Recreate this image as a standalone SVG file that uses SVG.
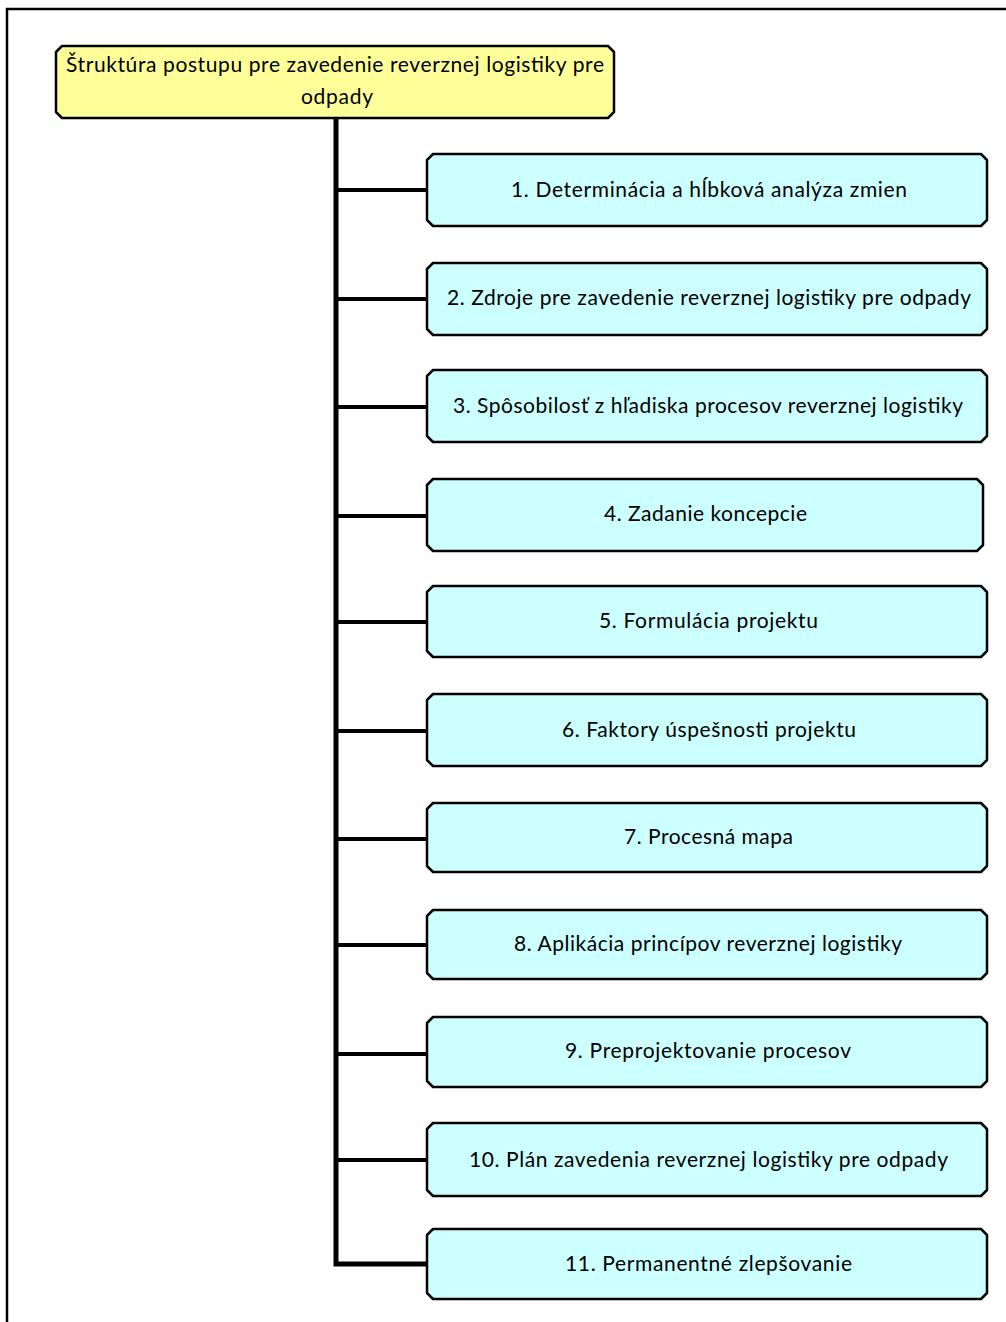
<svg xmlns="http://www.w3.org/2000/svg" width="1006" height="1322" viewBox="0 0 1006 1322">
  <style>
    .frame { fill: none; stroke: #000; stroke-width: 2.5; }
    .trunk { fill: none; stroke: #000; stroke-width: 5; stroke-linejoin: miter; }
    .branch { fill: none; stroke: #000; stroke-width: 4; }
    .root { fill: #ffff99; stroke: #000; stroke-width: 2.5; stroke-linejoin: round; }
    .step { fill: #ccffff; stroke: #000; stroke-width: 2.5; stroke-linejoin: round; }
    text { font-family: "Lato", "Liberation Sans", sans-serif; font-size: 21px; fill: #000; text-anchor: middle; }
  </style>
  <rect width="1006" height="1322" fill="#fff"/>

  <!-- page border (top and left edges only) -->
  <path class="frame" d="M7,1322 V9 H1006"/>

  <!-- connectors: trunk from root and branches to each step -->
  <g id="connectors">
    <path class="trunk" d="M336,118 V1264 H428"/>
    <line class="branch" x1="336" y1="190" x2="428" y2="190"/>
    <line class="branch" x1="336" y1="299" x2="428" y2="299"/>
    <line class="branch" x1="336" y1="407" x2="428" y2="407"/>
    <line class="branch" x1="336" y1="516" x2="428" y2="516"/>
    <line class="branch" x1="336" y1="622" x2="428" y2="622"/>
    <line class="branch" x1="336" y1="731" x2="428" y2="731"/>
    <line class="branch" x1="336" y1="839" x2="428" y2="839"/>
    <line class="branch" x1="336" y1="945" x2="428" y2="945"/>
    <line class="branch" x1="336" y1="1054" x2="428" y2="1054"/>
    <line class="branch" x1="336" y1="1160" x2="428" y2="1160"/>
  </g>

  <g id="root">
    <path class="root" d="M62,46 H608 L614,52 V112 L608,118 H62 L56,112 V52 Z"/>
    <text x="335" y="72" textLength="538" lengthAdjust="spacing">Štruktúra postupu pre zavedenie reverznej logistiky pre</text>
    <text x="337" y="104" textLength="72" lengthAdjust="spacing">odpady</text>
  </g>

  <g id="step1">
    <path class="step" d="M433,154 H981 L987,160 V220 L981,226 H433 L427,220 V160 Z"/>
    <text x="709" y="197" textLength="396" lengthAdjust="spacing">1. Determinácia a hĺbková analýza zmien</text>
  </g>
  <g id="step2">
    <path class="step" d="M433,263 H981 L987,269 V329 L981,335 H433 L427,329 V269 Z"/>
    <text x="709" y="305" textLength="524" lengthAdjust="spacing">2. Zdroje pre zavedenie reverznej logistiky pre odpady</text>
  </g>
  <g id="step3">
    <path class="step" d="M433,370 H981 L987,376 V436 L981,442 H433 L427,436 V376 Z"/>
    <text x="708" y="413" textLength="510" lengthAdjust="spacing">3. Spôsobilosť z hľadiska procesov reverznej logistiky</text>
  </g>
  <g id="step4">
    <path class="step" d="M433,479 H977 L983,485 V545 L977,551 H433 L427,545 V485 Z"/>
    <text x="705.5" y="521" textLength="203" lengthAdjust="spacing">4. Zadanie koncepcie</text>
  </g>
  <g id="step5">
    <path class="step" d="M433,586 H981 L987,592 V651 L981,657 H433 L427,651 V592 Z"/>
    <text x="708.5" y="628" textLength="219" lengthAdjust="spacing">5. Formulácia projektu</text>
  </g>
  <g id="step6">
    <path class="step" d="M433,694 H981 L987,700 V760 L981,766 H433 L427,760 V700 Z"/>
    <text x="709" y="737" textLength="294" lengthAdjust="spacing">6. Faktory úspešnosti projektu</text>
  </g>
  <g id="step7">
    <path class="step" d="M433,803 H981 L987,809 V866 L981,872 H433 L427,866 V809 Z"/>
    <text x="708.5" y="844" textLength="169" lengthAdjust="spacing">7. Procesná mapa</text>
  </g>
  <g id="step8">
    <path class="step" d="M433,910 H981 L987,916 V973 L981,979 H433 L427,973 V916 Z"/>
    <text x="708" y="951" textLength="388" lengthAdjust="spacing">8. Aplikácia princípov reverznej logistiky</text>
  </g>
  <g id="step9">
    <path class="step" d="M433,1017 H981 L987,1023 V1081 L981,1087 H433 L427,1081 V1023 Z"/>
    <text x="708" y="1058" textLength="286" lengthAdjust="spacing">9. Preprojektovanie procesov</text>
  </g>
  <g id="step10">
    <path class="step" d="M433,1123 H981 L987,1129 V1190 L981,1196 H433 L427,1190 V1129 Z"/>
    <text x="708.5" y="1167" textLength="479" lengthAdjust="spacing">10. Plán zavedenia reverznej logistiky pre odpady</text>
  </g>
  <g id="step11">
    <path class="step" d="M433,1229 H981 L987,1235 V1293 L981,1299 H433 L427,1293 V1235 Z"/>
    <text x="708.5" y="1271" textLength="287" lengthAdjust="spacing">11. Permanentné zlepšovanie</text>
  </g>
</svg>
